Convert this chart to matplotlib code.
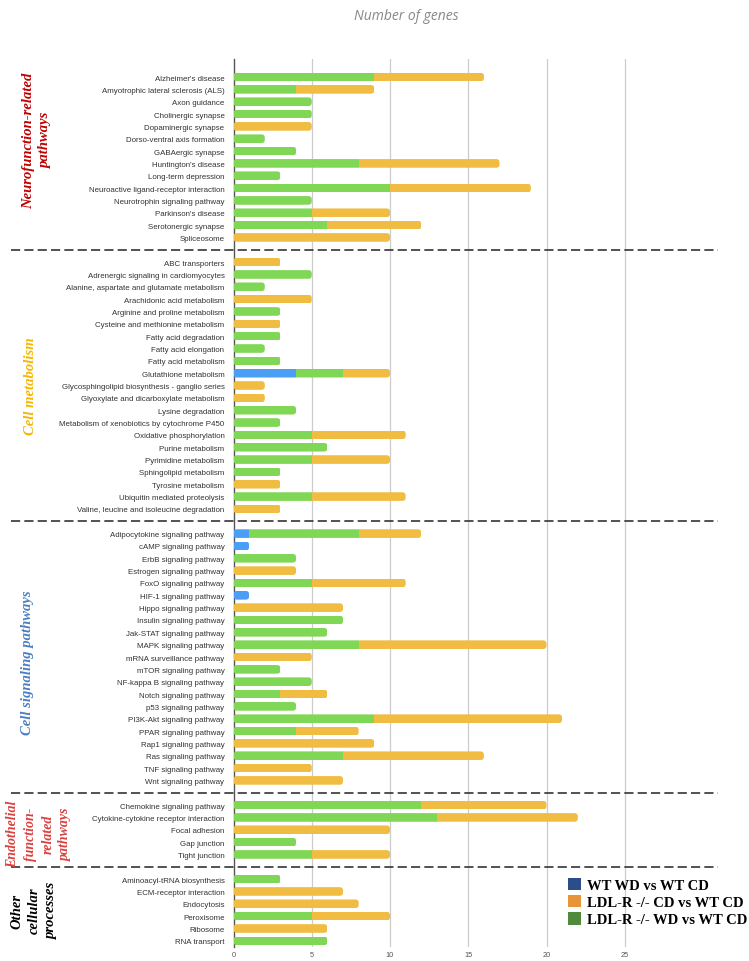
import matplotlib.pyplot as plt
from matplotlib.patches import Patch, FancyBboxPatch
import matplotlib.transforms as mtransforms

# pathways per group, with gene counts for each comparison
# (blue = WT WD vs WT CD, green = LDL-R -/- WD vs WT CD, orange = LDL-R -/- CD vs WT CD)
neuro_names = ["Alzheimer's disease", "Amyotrophic lateral sclerosis (ALS)", "Axon guidance",
               "Cholinergic synapse", "Dopaminergic synapse", "Dorso-ventral axis formation",
               "GABAergic synapse", "Huntington's disease", "Long-term depression",
               "Neuroactive ligand-receptor interaction", "Neurotrophin signaling pathway",
               "Parkinson's disease", "Serotonergic synapse", "Spliceosome"]
neuro_blue = [0] * 14
neuro_green = [9, 4, 5, 5, 0, 2, 4, 8, 3, 10, 5, 5, 6, 0]
neuro_orange = [7, 5, 0, 0, 5, 0, 0, 9, 0, 9, 0, 5, 6, 10]

metab_names = ["ABC transporters", "Adrenergic signaling in cardiomyocytes",
               "Alanine, aspartate and glutamate metabolism", "Arachidonic acid metabolism",
               "Arginine and proline metabolism", "Cysteine and methionine metabolism",
               "Fatty acid degradation", "Fatty acid elongation", "Fatty acid metabolism",
               "Glutathione metabolism", "Glycosphingolipid biosynthesis - ganglio series",
               "Glyoxylate and dicarboxylate metabolism", "Lysine degradation",
               "Metabolism of xenobiotics by cytochrome P450", "Oxidative phosphorylation",
               "Purine metabolism", "Pyrimidine metabolism", "Sphingolipid metabolism",
               "Tyrosine metabolism", "Ubiquitin mediated proteolysis",
               "Valine, leucine and isoleucine degradation"]
metab_blue = [0, 0, 0, 0, 0, 0, 0, 0, 0, 4, 0, 0, 0, 0, 0, 0, 0, 0, 0, 0, 0]
metab_green = [0, 5, 2, 0, 3, 0, 3, 2, 3, 3, 0, 0, 4, 3, 5, 6, 5, 3, 0, 5, 0]
metab_orange = [3, 0, 0, 5, 0, 3, 0, 0, 0, 3, 2, 2, 0, 0, 6, 0, 5, 0, 3, 6, 3]

signal_names = ["Adipocytokine signaling pathway", "cAMP signaling pathway", "ErbB signaling pathway",
                "Estrogen signaling pathway", "FoxO signaling pathway", "HIF-1 signaling pathway",
                "Hippo signaling pathway", "Insulin signaling pathway", "Jak-STAT signaling pathway",
                "MAPK signaling pathway", "mRNA surveillance pathway", "mTOR signaling pathway",
                "NF-kappa B signaling pathway", "Notch signaling pathway", "p53 signaling pathway",
                "PI3K-Akt signaling pathway", "PPAR signaling pathway", "Rap1 signaling pathway",
                "Ras signaling pathway", "TNF signaling pathway", "Wnt signaling pathway"]
signal_blue = [1, 1, 0, 0, 0, 1, 0, 0, 0, 0, 0, 0, 0, 0, 0, 0, 0, 0, 0, 0, 0]
signal_green = [7, 0, 4, 0, 5, 0, 0, 7, 6, 8, 0, 3, 5, 3, 4, 9, 4, 0, 7, 0, 0]
signal_orange = [4, 0, 0, 4, 6, 0, 7, 0, 0, 12, 5, 0, 0, 3, 0, 12, 4, 9, 9, 5, 7]

endo_names = ["Chemokine signaling pathway", "Cytokine-cytokine receptor interaction",
              "Focal adhesion", "Gap junction", "Tight junction"]
endo_blue = [0, 0, 0, 0, 0]
endo_green = [12, 13, 0, 4, 5]
endo_orange = [8, 9, 10, 0, 5]

other_names = ["Aminoacyl-tRNA biosynthesis", "ECM-receptor interaction", "Endocytosis",
               "Peroxisome", "Ribosome", "RNA transport"]
other_blue = [0, 0, 0, 0, 0, 0]
other_green = [3, 0, 0, 5, 0, 6]
other_orange = [0, 7, 8, 5, 6, 0]

group_titles = ["Neurofunction-related\npathways", "Cell metabolism", "Cell signaling pathways",
                "Endothelial\nfunction-\nrelated\npathways", "Other\ncellular\nprocesses"]
group_colors = ["#c00000", "#f5b700", "#4a7fc4", "#d9413f", "black"]
group_shift = [-1.4, 0, 0.4, 0.25, 0]
group_sizes = [10.5, 10.5, 10.5, 10, 10.5]

x_ticks = [0, 5, 10, 15, 20, 25]
legend_labels = ["WT WD vs WT CD", "LDL-R -/- CD vs WT CD", "LDL-R -/- WD vs WT CD"]
legend_colors = ["#2b4d8a", "#e8953a", "#4f8a3d"]

groups = [
    (neuro_names, neuro_blue, neuro_green, neuro_orange),
    (metab_names, metab_blue, metab_green, metab_orange),
    (signal_names, signal_blue, signal_green, signal_orange),
    (endo_names, endo_blue, endo_green, endo_orange),
    (other_names, other_blue, other_green, other_orange),
]

blue_c = "#4a9ff5"
green_c = "#80d655"
orange_c = "#f1bc42"

plt.rcParams["font.family"] = ["Liberation Sans", "DejaVu Sans"]

fig = plt.figure(figsize=(7.49, 9.62), dpi=100)
ax = fig.add_axes([233.5 / 749, 1 - 948 / 962, (703 - 233.5) / 749, (948 - 60) / 962])

ypos, labels, blue, green, orange = [], [], [], [], []
sep_pos, centers = [], []
slot = 0
for gi, (names, b, g, o) in enumerate(groups):
    start = slot
    for i in range(len(names)):
        ypos.append(slot)
        labels.append(names[i])
        blue.append(b[i])
        green.append(g[i])
        orange.append(o[i])
        slot += 1
    centers.append((start + slot - 1) / 2)
    if gi < len(groups) - 1:
        sep_pos.append(slot)
        slot += 1

h = 0.7
left_g = [b for b in blue]
left_o = [b + g for b, g in zip(blue, green)]
bars_b = ax.barh(ypos, blue, height=h, color=blue_c, zorder=3)
bars_g = ax.barh(ypos, green, left=left_g, height=h, color=green_c, zorder=3)
bars_o = ax.barh(ypos, orange, left=left_o, height=h, color=orange_c, zorder=3)

# rounded outer ends: clip every segment of a row to one rounded box
for i, y in enumerate(ypos):
    total = blue[i] + green[i] + orange[i]
    clip = FancyBboxPatch((0, y - h / 2), total, h, boxstyle="round,pad=0,rounding_size=0.22",
                          mutation_aspect=1.25, facecolor="none", edgecolor="none")
    ax.add_patch(clip)
    for bars in (bars_b, bars_g, bars_o):
        bars[i].set_clip_path(clip)

ax.set_ylim(slot - 1 + 0.5, -1.46)
ax.set_xlim(0, 30)
ax.set_yticks(ypos)
ax.set_yticklabels(labels, fontsize=5.7, color="#333333")
ax.set_xticks(x_ticks)
ax.set_xticklabels([str(t) for t in x_ticks], fontsize=5.3, color="#555555")
ax.tick_params(axis="y", length=0, pad=6.5)
ax.tick_params(axis="x", length=0, pad=3)
for s in ["top", "right", "bottom"]:
    ax.spines[s].set_visible(False)
ax.spines["left"].set_color("#555555")
ax.spines["left"].set_linewidth(1)
for t in x_ticks[1:]:
    ax.axvline(t, color="#cccccc", lw=0.9, zorder=1)

# dashed separators between groups, across the whole figure width
trans = mtransforms.blended_transform_factory(fig.transFigure, ax.transData)
for s in sep_pos:
    ax.plot([11 / 749, 718 / 749], [s, s], transform=trans, color="#333333", lw=1.2,
            linestyle=(0, (5.5, 2.5)), clip_on=False, zorder=4)

xs = [37, 31, 27, 39, 34]
for gi, title in enumerate(group_titles):
    fig.text(xs[gi] / 749, centers[gi] + group_shift[gi], title, transform=trans,
             rotation=90, ha="center", va="center", multialignment="center",
             fontsize=group_sizes[gi], fontstyle="italic", fontweight="bold", color=group_colors[gi],
             family=["Liberation Serif", "DejaVu Serif"], linespacing=1.45)

fig.text(406 / 749, 1 - 16 / 962, "Number of genes", ha="center", va="center", fontsize=10,
         fontstyle="italic", color="#888888", family=["Open Sans", "DejaVu Sans"])

handles = [Patch(facecolor=c, edgecolor="none") for c in legend_colors]
leg = fig.legend(handles, legend_labels, loc="upper left", bbox_to_anchor=(562 / 749, 1 - 873 / 962),
                 frameon=False, handlelength=0.9, handleheight=0.9, handletextpad=0.4,
                 labelspacing=0.22, borderaxespad=0,
                 prop={"family": ["Liberation Serif", "DejaVu Serif"], "weight": "bold", "size": 10.5})

fig.savefig("out.png", dpi=100)
